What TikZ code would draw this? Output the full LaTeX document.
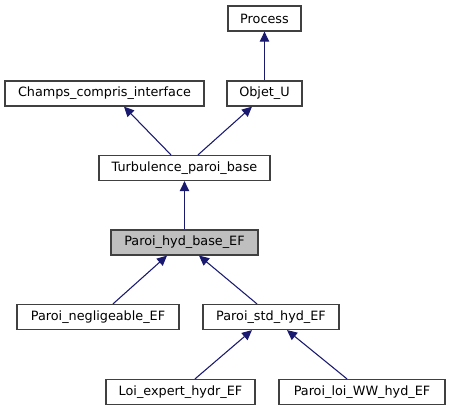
\documentclass[tikz,border=0pt]{standalone}
\usepackage{fontspec}
\setmainfont{DejaVu Sans}
\usetikzlibrary{arrows.meta,calc}
\definecolor{edgec}{HTML}{191970}
\definecolor{boxc}{HTML}{404040}
\begin{document}
\begin{tikzpicture}[x=0.75pt,y=-0.75pt,
  cls/.style={draw=boxc,line width=0.9pt,fill=white,inner sep=0pt,minimum height=25*0.75pt,font=\fontsize{9.6}{11}\selectfont},
  arr/.style={draw=edgec,line width=0.8pt,-{Triangle[length=7.5pt,width=7pt]}}]
\useasboundingbox (0,0) rectangle (450,411);
\node[cls,minimum width=73*0.75pt] (proc) at (264.5,18.5) {Process};
\node[cls,minimum width=199*0.75pt] (champs) at (104.5,93.5) {Champs\_compris\_interface};
\node[cls,minimum width=75*0.75pt] (objet) at (264.5,93.5) {Objet\_U};
\node[cls,minimum width=171*0.75pt] (turb) at (184.5,168) {Turbulence\_paroi\_base};
\node[cls,minimum width=147*0.75pt,fill={rgb,255:red,191;green,191;blue,191}] (hyd) at (184.5,242.5) {Paroi\_hyd\_base\_EF};
\node[cls,minimum width=162*0.75pt] (neg) at (98,317) {Paroi\_negligeable\_EF};
\node[cls,minimum width=136*0.75pt] (std) at (271,317) {Paroi\_std\_hyd\_EF};
\node[cls,minimum width=149*0.75pt] (loi) at (180.5,392) {Loi\_expert\_hydr\_EF};
\node[cls,minimum width=166*0.75pt] (ww) at (362,392) {Paroi\_loi\_WW\_hyd\_EF};
\draw[arr] (objet.north) -- (proc.south);
\draw[arr] ($(turb.north)+(-13.5,0)$) -- ($(champs.south)+(19.5,0)$);
\draw[arr] ($(turb.north)+(13.5,0)$) -- ($(objet.south)+(-12.5,0)$);
\draw[arr] (hyd.north) -- (turb.south);
\draw[arr] ($(neg.north)+(15,0)$) -- ($(hyd.south)+(-17.5,0)$);
\draw[arr] ($(std.north)+(-14,0)$) -- ($(hyd.south)+(14.5,0)$);
\draw[arr] ($(loi.north)+(14.5,0)$) -- ($(std.south)+(-19,0)$);
\draw[arr] ($(ww.north)+(-15,0)$) -- ($(std.south)+(16,0)$);
\end{tikzpicture}
\end{document}
